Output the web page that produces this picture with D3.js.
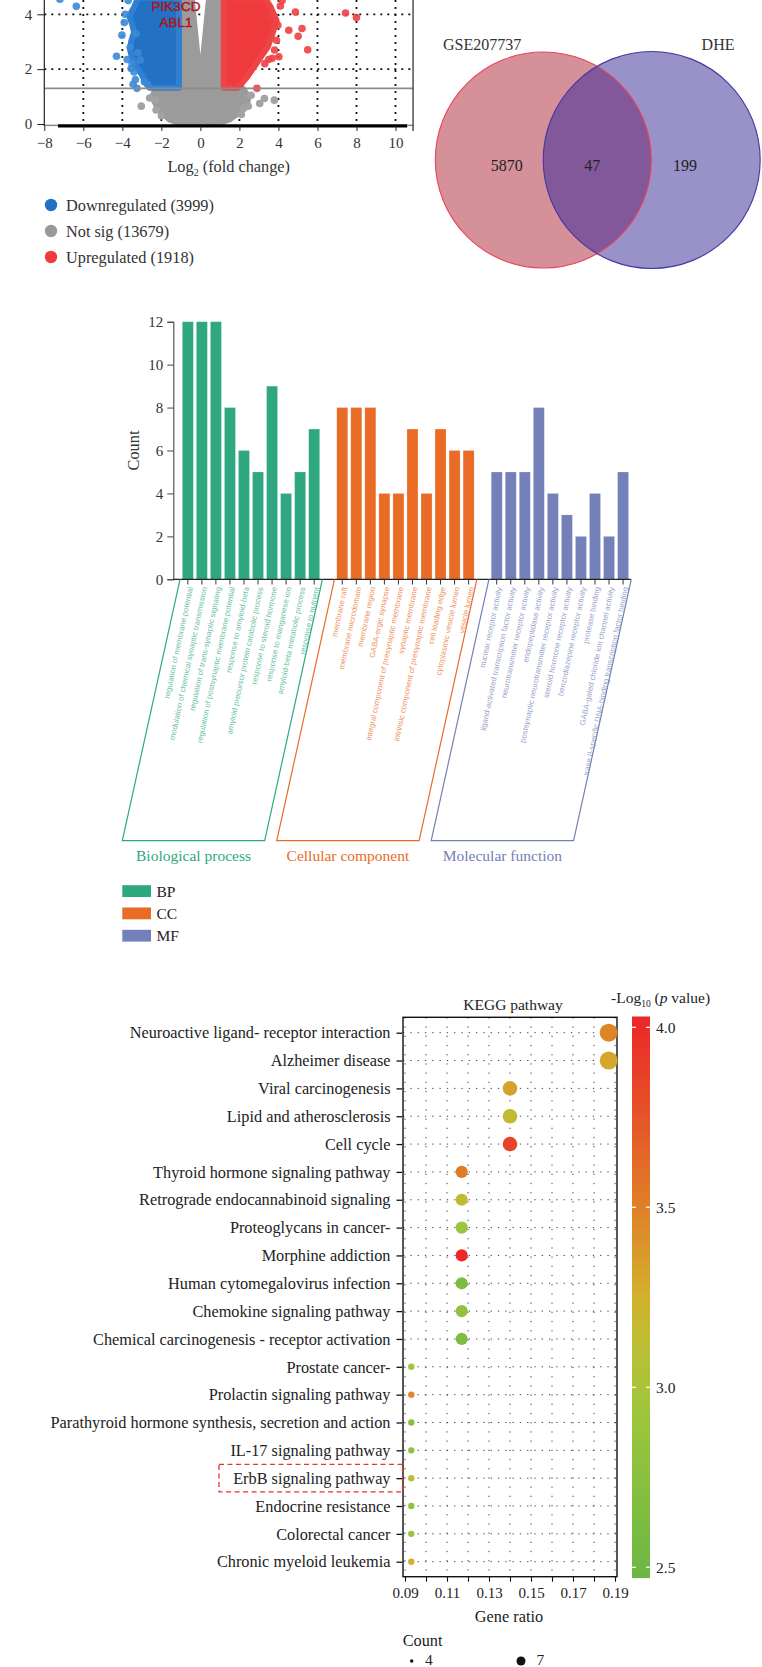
<!DOCTYPE html>
<html><head><meta charset="utf-8">
<script src="https://cdn.jsdelivr.net/npm/d3@7"></script>
<style>
html,body{margin:0;padding:0;background:#fff;}
svg text{font-family:"Liberation Serif","DejaVu Serif",serif;}
svg text.sans{font-family:"Liberation Sans",Arial,sans-serif;}
</style></head>
<body>
<svg id="fig" width="762" height="1667"></svg>
<script>
// ---------------- DATA ----------------
// Volcano plot (log2 fold change, -log10 p)
const volcanoXTicks = [-8,-6,-4,-2,0,2,4,6,8,10];
const volcanoYTicks = [0,2,4];
const legendVolcano = ["Downregulated (3999)","Not sig (13679)","Upregulated (1918)"];
// dense clouds (outlines, data units)
const downCloud = [[-3.2,4.6],[-3.4,4.25],[-3.65,3.95],[-3.5,3.65],[-3.4,3.35],[-3.55,3.0],[-3.6,2.7],[-3.5,2.4],[-3.3,2.1],[-3.0,1.8],[-2.8,1.5],[-2.6,1.32],[-1.1,1.32],[-1.1,4.6]];
const upCloud = [[1.2,4.6],[3.3,4.6],[3.6,4.27],[3.9,3.78],[3.7,3.3],[3.45,2.81],[3.1,2.45],[2.75,2.08],[2.4,1.72],[2.05,1.42],[1.9,1.32],[1.2,1.32]];
const notSigCloud = [[-1.1,4.6],[-0.42,4.6],[0,1.6],[0.42,4.6],[1.2,4.6],[1.2,1.3],[2.2,1.3],[2.5,1.0],[2.4,0.7],[2.0,0.4],[1.5,0.15],[1.0,0.02],[-1.1,0.02],[-1.6,0.15],[-2.0,0.4],[-2.3,0.7],[-2.5,1.0],[-2.3,1.3],[-1.1,1.3]];
// scattered genes
const downPoints = [[-7.2,4.55],[-6.36,4.29],[-3.85,4.0],[-3.7,4.5],[-4.02,3.24],[-4.3,2.47],[-3.3,3.3],[-3.55,2.02],[-3.33,1.62],[-3.25,1.3],[-2.87,1.54],[-3.5,2.2],[-3.08,2.33],[-3.75,2.35],[-3.4,1.9],[-2.7,1.45],[-3.9,3.7],[-3.45,1.45],[-3.6,2.8],[-3.2,2.6]];
const upPoints = [[4.19,4.5],[4.87,4.08],[4.53,3.42],[5.21,3.48],[5.01,3.2],[5.5,2.71],[7.44,4.05],[8.0,3.88],[4.02,2.45],[3.68,2.4],[3.5,2.35],[2.9,1.3],[3.97,3.6],[3.9,3.05],[3.8,2.7],[3.3,2.2],[4.1,4.3],[3.6,3.9]];
const notSigPoints = [[-3.03,0.65],[-2.27,0.51],[-2.3,0.87],[-2.6,0.95],[2.22,0.57],[2.45,0.65],[3.04,0.75],[3.28,0.93],[3.79,0.87],[2.6,1.05],[-2.0,0.3],[2.1,0.35]];
const geneLabels = ["PIK3CD","ABL1"];

// Venn
const vennSets = ["GSE207737","DHE"];
const vennCounts = [5870,47,199];

// GO enrichment
const bpTerms = ["regulation of membrane potential","modulation of chemical synaptic transmission","regulation of trans-synaptic signaling","regulation of postsynaptic membrane potential","response to amyloid-beta","amyloid precursor protein catabolic process","response to steroid hormone","response to manganese ion","amyloid-beta metabolic process","response to nutrient"];
const bpCounts = [12,12,12,8,6,5,9,4,5,7];
const ccTerms = ["membrane raft","membrane microdomain","membrane region","GABA-ergic synapse","integral component of presynaptic membrane","synaptic membrane","intrinsic component of presynaptic membrane","cell leading edge","cytoplasmic vesicle lumen","vesicle lumen"];
const ccCounts = [8,8,8,4,4,7,4,7,6,6];
const mfTerms = ["nuclear receptor activity","ligand-activated transcription factor activity","neurotransmitter receptor activity","endopeptidase activity","postsynaptic neurotransmitter receptor activity","steroid hormone receptor activity","benzodiazepine receptor activity","protease binding","GABA-gated chloride ion channel activity","RNA polymerase II-specific DNA-binding transcription factor binding"];
const mfCounts = [5,5,5,8,4,3,2,4,2,5];
const goGroups = ["BP","CC","MF"];
const goGroupNames = ["Biological process","Cellular component","Molecular function"];
const goYTicks = [0,2,4,6,8,10,12];

// KEGG
const keggPathways = ["Neuroactive ligand- receptor interaction","Alzheimer disease","Viral carcinogenesis","Lipid and atherosclerosis","Cell cycle","Thyroid hormone signaling pathway","Retrograde endocannabinoid signaling","Proteoglycans in cancer-","Morphine addiction","Human cytomegalovirus infection","Chemokine signaling pathway","Chemical carcinogenesis - receptor activation","Prostate cancer-","Prolactin signaling pathway","Parathyroid hormone synthesis, secretion and action","IL-17 signaling pathway","ErbB signaling pathway","Endocrine resistance","Colorectal cancer","Chronic myeloid leukemia"];
const keggRatio = [0.187,0.187,0.140,0.140,0.140,0.117,0.117,0.117,0.117,0.117,0.117,0.117,0.093,0.093,0.093,0.093,0.093,0.093,0.093,0.093];
const keggCount = [8,8,6,6,6,5,5,5,5,5,5,5,4,4,4,4,4,4,4,4];
const keggLogP = [3.47,3.3,3.33,3.15,3.85,3.52,3.15,2.9,4.02,2.62,2.82,2.65,2.95,3.45,2.75,2.8,3.1,2.8,2.9,3.25];
const keggXTicks = [0.09,0.10,0.11,0.12,0.13,0.14,0.15,0.16,0.17,0.18,0.19];
const colorTicks = [2.5,3.0,3.5,4.0];
const countLegend = [4,7];
const highlighted = "ErbB signaling pathway";

// ---------------- DRAW ----------------
const svg = d3.select("#fig");
svg.append("rect").attr("width",762).attr("height",1667).attr("fill","#fff");
const defs = svg.append("defs");
const FS = 16.3;   // word text size

// ===== Volcano =====
{
  const xV = d3.scaleLinear().domain([-8,10]).range([44.3,395.5]);
  const yV = d3.scaleLinear().domain([0,4]).range([124,14.3]);
  const g = svg.append("g");
  defs.append("clipPath").attr("id","vclip").append("rect")
    .attr("x",xV(-8)).attr("y",0).attr("width",xV(10.9)-xV(-8)).attr("height",yV(-0.05));
  // grid
  const grid = g.append("g").attr("stroke","#111").attr("stroke-width",1.8).attr("stroke-dasharray","2,5");
  volcanoXTicks.filter(d=>d!==-8 && d!==0).forEach(d=>{
    grid.append("line").attr("x1",xV(d)).attr("x2",xV(d)).attr("y1",0).attr("y2",yV(0));
  });
  [2,4].forEach(d=>{
    grid.append("line").attr("x1",xV(-8)).attr("x2",xV(10.9)).attr("y1",yV(d)).attr("y2",yV(d));
  });
  const pts = g.append("g").attr("clip-path","url(#vclip)");
  const line = d3.line().x(d=>xV(d[0])).y(d=>yV(d[1])).curve(d3.curveLinearClosed);
  pts.append("path").attr("d",line(notSigCloud)).attr("fill","#9b9b9b").attr("stroke","#9b9b9b").attr("stroke-width",5).attr("stroke-linejoin","round");
  pts.append("path").attr("d",line(downCloud)).attr("fill","#2271c4").attr("stroke","#2f80d0").attr("stroke-width",6).attr("stroke-linejoin","round");
  pts.append("path").attr("d",line(upCloud)).attr("fill","#ef3b3d").attr("stroke","#ef4445").attr("stroke-width",6).attr("stroke-linejoin","round");
  pts.selectAll(".ns").data(notSigPoints).join("circle").attr("cx",d=>xV(d[0])).attr("cy",d=>yV(d[1])).attr("r",3.8).attr("fill","#a3a3a3");
  pts.selectAll(".dn").data(downPoints).join("circle").attr("cx",d=>xV(d[0])).attr("cy",d=>yV(d[1])).attr("r",3.8).attr("fill","#3b8ad6").attr("fill-opacity",0.9);
  pts.selectAll(".up").data(upPoints).join("circle").attr("cx",d=>xV(d[0])).attr("cy",d=>yV(d[1])).attr("r",3.8).attr("fill","#ee4044").attr("fill-opacity",0.9);
  // threshold line
  g.append("line").attr("x1",xV(-8)).attr("x2",xV(10.9)).attr("y1",yV(1.3)).attr("y2",yV(1.3)).attr("stroke","#8c8c8c").attr("stroke-width",1.6);
  // y = 0 band
  g.append("line").attr("x1",xV(-8)).attr("x2",xV(-7.3)).attr("y1",yV(-0.05)).attr("y2",yV(-0.05)).attr("stroke","#888").attr("stroke-width",1.5);
  g.append("line").attr("x1",xV(-7.3)).attr("x2",xV(10.6)).attr("y1",yV(-0.07)).attr("y2",yV(-0.07)).attr("stroke","#000").attr("stroke-width",3.4);
  g.append("line").attr("x1",xV(10.6)).attr("x2",xV(10.9)).attr("y1",yV(-0.05)).attr("y2",yV(-0.05)).attr("stroke","#888").attr("stroke-width",1.5);
  // axes
  g.append("line").attr("x1",xV(-8)).attr("x2",xV(-8)).attr("y1",0).attr("y2",yV(-0.07)).attr("stroke","#222").attr("stroke-width",1.2);
  g.append("line").attr("x1",xV(10.9)).attr("x2",xV(10.9)).attr("y1",0).attr("y2",131).attr("stroke","#222").attr("stroke-width",1.2);
  const xAx = g.append("g").attr("transform",`translate(0,${yV(-0.07)})`)
    .call(d3.axisBottom(xV).tickValues(volcanoXTicks).tickSize(5).tickFormat(d=>d<0?"\u2212"+Math.abs(d):d));
  xAx.select(".domain").remove();
  xAx.selectAll("line").attr("stroke","#222");
  xAx.selectAll("text").attr("font-size",15).attr("fill","#333").attr("dy","0.95em");
  const yAx = g.append("g").attr("transform",`translate(${xV(-8)},0)`)
    .call(d3.axisLeft(yV).tickValues(volcanoYTicks).tickSize(7).tickPadding(5).tickFormat(d3.format("d")));
  yAx.select(".domain").remove();
  yAx.selectAll("line").attr("stroke","#222");
  yAx.selectAll("text").attr("font-size",15).attr("fill","#333");
  const xl = g.append("text").attr("x",(xV(-8)+xV(10.9))/2).attr("y",172).attr("text-anchor","middle").attr("font-size",FS).attr("fill","#333");
  xl.append("tspan").text("Log");
  xl.append("tspan").text("2").attr("font-size",10).attr("dy",3.5);
  xl.append("tspan").text(" (fold change)").attr("dy",-3.5);
  // gene labels
  g.selectAll(".gl").data(geneLabels).join("text").attr("class","sans")
    .attr("x",176).attr("y",(d,i)=>11+i*15.5).attr("text-anchor","middle")
    .attr("font-size",13.5)
    .attr("fill","#dc1420").attr("stroke","#8a0c0c").attr("stroke-width",0.6).attr("stroke-opacity",0.7).text(d=>d);
  // legend
  const lc = ["#2271c4","#999999","#ef3b3d"];
  legendVolcano.forEach((t,i)=>{
    g.append("circle").attr("cx",51).attr("cy",205+i*26).attr("r",6.2).attr("fill",lc[i]);
    g.append("text").attr("x",66).attr("y",205+i*26).attr("dy","0.35em").attr("font-size",FS).attr("fill","#333").text(t);
  });
}

// ===== Venn =====
{
  const g = svg.append("g");
  const c1 = {x:543.3,y:160,r:108}, c2 = {x:651.7,y:160,r:108.5};
  g.append("circle").attr("cx",c1.x).attr("cy",c1.y).attr("r",c1.r).attr("fill","#d6909a");
  g.append("circle").attr("cx",c2.x).attr("cy",c2.y).attr("r",c2.r).attr("fill","#9892c9");
  defs.append("clipPath").attr("id","vc1").append("circle").attr("cx",c1.x).attr("cy",c1.y).attr("r",c1.r);
  g.append("circle").attr("cx",c2.x).attr("cy",c2.y).attr("r",c2.r).attr("fill","#83589b").attr("clip-path","url(#vc1)");
  g.append("circle").attr("cx",c1.x).attr("cy",c1.y).attr("r",c1.r).attr("fill","none").attr("stroke","#e8425c").attr("stroke-width",1.1);
  g.append("circle").attr("cx",c2.x).attr("cy",c2.y).attr("r",c2.r).attr("fill","none").attr("stroke","#4539a0").attr("stroke-width",1.1);
  g.append("text").attr("x",443).attr("y",50).attr("font-size",16).attr("fill","#333").text(vennSets[0]);
  g.append("text").attr("x",734.5).attr("y",50).attr("text-anchor","end").attr("font-size",16).attr("fill","#333").text(vennSets[1]);
  const cx = [506.7,592.3,685];
  vennCounts.forEach((v,i)=>g.append("text").attr("x",cx[i]).attr("y",165).attr("dy","0.35em").attr("text-anchor","middle").attr("font-size",16).attr("fill","#222").text(v));
}

// ===== GO bar chart =====
{
  const g = svg.append("g");
  const colors = {BP:"#2fa882",CC:"#e96b26",MF:"#7480b8"};
  const rows = [];
  bpTerms.forEach((t,i)=>rows.push({term:t,count:bpCounts[i],grp:"BP"}));
  ccTerms.forEach((t,i)=>rows.push({term:t,count:ccCounts[i],grp:"CC"}));
  mfTerms.forEach((t,i)=>rows.push({term:t,count:mfCounts[i],grp:"MF"}));
  const slots = [...bpTerms,"__gap1",...ccTerms,"__gap2",...mfTerms];
  const x = d3.scaleBand().domain(slots).range([175.3,635.6]).paddingInner(0.216).paddingOuter(0.5);
  const y = d3.scaleLinear().domain([0,12]).range([579.3,321.7]);
  g.selectAll(".bar").data(rows).join("rect")
    .attr("x",d=>x(d.term)).attr("width",x.bandwidth())
    .attr("y",d=>y(d.count)).attr("height",d=>y(0)-y(d.count))
    .attr("fill",d=>colors[d.grp]).attr("stroke","#ffffff").attr("stroke-opacity",0.35).attr("stroke-width",0.6);
  // y axis
  const yAx = g.append("g").attr("transform","translate(173.3,0)").call(d3.axisLeft(y).tickValues(goYTicks).tickSize(6).tickPadding(4));
  yAx.select(".domain").attr("stroke","#444").attr("stroke-width",1.1);
  yAx.selectAll("line").attr("stroke","#444");
  yAx.selectAll("text").attr("font-size",15).attr("fill","#333");
  g.append("text").attr("transform","translate(139,450.5) rotate(-90)").attr("text-anchor","middle").attr("font-size",FS).attr("fill","#333").text("Count");
  // x axis line + ticks
  g.append("line").attr("x1",173.3).attr("x2",631).attr("y1",579.3).attr("y2",579.3).attr("stroke","#222").attr("stroke-width",1.2);
  g.selectAll(".tk").data(rows).join("line")
    .attr("x1",d=>x(d.term)+x.bandwidth()/2).attr("x2",d=>x(d.term)+x.bandwidth()/2)
    .attr("y1",579.3).attr("y2",584.5).attr("stroke","#333").attr("stroke-width",1);
  defs.append("clipPath").attr("id","goclip").append("rect").attr("x",100).attr("y",582).attr("width",560).attr("height",193);
  const lab = g.append("g").attr("clip-path","url(#goclip)");
  lab.selectAll(".lb").data(rows).join("text").attr("class","sans")
    .attr("transform",d=>`translate(${x(d.term)+x.bandwidth()/2+2.5},${587}) rotate(-78)`)
    .attr("text-anchor","end").attr("dy","0.35em")
    .attr("font-size",7.8)
    .attr("fill",d=>colors[d.grp]).attr("fill-opacity",0.75).text(d=>d.term);
  // parallelogram boxes
  const groups = [bpTerms,ccTerms,mfTerms];
  groups.forEach((terms,i)=>{
    const gname = goGroups[i];
    const tl = x(terms[0]) - 2.3, tr = x(terms[terms.length-1]) + x.bandwidth() + 2.7;
    const shift = 57.7, yt = 579.3, yb = 840.7;
    g.append("path").attr("d",`M${tl},${yt}L${tl-shift},${yb}L${tr-shift},${yb}L${tr},${yt}`)
      .attr("fill","none").attr("stroke",colors[gname]).attr("stroke-width",1.2);
    g.append("text").attr("x",(tl+tr)/2-shift).attr("y",861).attr("text-anchor","middle")
      .attr("font-size",15.5).attr("fill",colors[gname]).text(goGroupNames[i]);
  });
  // legend
  goGroups.forEach((gname,i)=>{
    g.append("rect").attr("x",122.3).attr("y",885.2+i*22.3).attr("width",28.7).attr("height",11.8).attr("fill",colors[gname]);
    g.append("text").attr("x",156.5).attr("y",891.1+i*22.3).attr("dy","0.35em").attr("font-size",15.5).attr("fill","#222").text(gname);
  });
}

// ===== KEGG dot plot =====
{
  const g = svg.append("g");
  const x = d3.scaleLinear().domain([0.09,0.19]).range([405,615]);
  const y = d3.scalePoint().domain(keggPathways).range([1032.7,1561.7]);
  const color = d3.scaleLinear().domain([2.47,3.0,3.25,3.5,4.03]).range(["#6bb744","#a6c83a","#d2b22c","#e07f28","#ec2628"]);
  const rNorm = d3.scaleLinear().domain([4,8]).range([0,1]);
  const rSqrt = d3.scaleSqrt().domain([0,1]).range([3.2,9]);
  const r = c => rSqrt(rNorm(c));
  const fx0 = 403, fx1 = 617, fy0 = 1017.3, fy1 = 1576.7;
  // grid
  const grid = g.append("g").attr("stroke","#444").attr("stroke-width",1);
  keggPathways.forEach(p=>grid.append("line").attr("x1",fx0).attr("x2",fx1).attr("y1",y(p)).attr("y2",y(p)).attr("stroke-dasharray","1.3,6"));
  keggXTicks.forEach(t=>grid.append("line").attr("x1",x(t)).attr("x2",x(t)).attr("y1",fy0).attr("y2",fy1).attr("stroke-dasharray","1.3,7.9"));
  // frame
  g.append("rect").attr("x",fx0).attr("y",fy0).attr("width",fx1-fx0).attr("height",fy1-fy0).attr("fill","none").attr("stroke","#111").attr("stroke-width",1.4);
  // dots
  const data = keggPathways.map((p,i)=>({p,ratio:keggRatio[i],count:keggCount[i],lp:keggLogP[i]}));
  g.selectAll(".dot").data(data).join("circle")
    .attr("cx",d=>x(d.ratio)).attr("cy",d=>y(d.p)).attr("r",d=>r(d.count)).attr("fill",d=>color(d.lp));
  // y axis labels
  const yAx = g.append("g").attr("transform",`translate(${fx0-1},0)`).call(d3.axisLeft(y).tickSize(5.5).tickPadding(6));
  yAx.select(".domain").remove();
  yAx.selectAll("line").attr("stroke","#111").attr("stroke-width",1.3);
  yAx.selectAll("text").attr("font-size",FS).attr("fill","#222");
  // x axis
  const xAx = g.append("g").attr("transform",`translate(0,${fy1})`)
    .call(d3.axisBottom(x).tickValues(keggXTicks).tickSize(5).tickPadding(6).tickFormat(d=>{const k=Math.round(d*100);return k%2===1?d3.format(".2f")(d):"";}));
  xAx.select(".domain").remove();
  xAx.selectAll("line").attr("stroke","#111").attr("stroke-width",1.1);
  xAx.selectAll("text").attr("font-size",15).attr("fill","#222");
  g.append("text").attr("x",509).attr("y",1616.7).attr("dy","0.35em").attr("text-anchor","middle").attr("font-size",FS).attr("fill","#222").text("Gene ratio");
  g.append("text").attr("x",513).attr("y",1005).attr("dy","0.35em").attr("text-anchor","middle").attr("font-size",15.5).attr("fill","#222").text("KEGG pathway");
  // highlight box
  const hy = y(highlighted);
  g.append("rect").attr("x",219).attr("y",hy-13.8).attr("width",402.5-219).attr("height",27.6)
    .attr("fill","none").attr("stroke","#ee3030").attr("stroke-width",1.3).attr("stroke-dasharray","5,3.5");
  // colour bar
  const yc = d3.scaleLinear().domain([2.5,4.0]).range([1567.3,1027.3]);
  const grad = defs.append("linearGradient").attr("id","cbar").attr("x1",0).attr("x2",0).attr("y1",1).attr("y2",0);
  const cd = color.domain();
  d3.range(0,11).forEach(k=>{
    const v = cd[0] + (cd[cd.length-1]-cd[0])*k/10;
    grad.append("stop").attr("offset",k/10).attr("stop-color",color(v));
  });
  g.append("rect").attr("x",632).attr("y",yc(4.03)).attr("width",18).attr("height",yc(2.47)-yc(4.03)).attr("fill","url(#cbar)");
  colorTicks.forEach(t=>{
    g.append("line").attr("x1",632).attr("x2",636).attr("y1",yc(t)).attr("y2",yc(t)).attr("stroke","#fff").attr("stroke-width",1.2);
    g.append("line").attr("x1",646).attr("x2",650).attr("y1",yc(t)).attr("y2",yc(t)).attr("stroke","#fff").attr("stroke-width",1.2);
    g.append("text").attr("x",656).attr("y",yc(t)).attr("dy","0.35em").attr("font-size",15.5).attr("fill","#222").text(d3.format(".1f")(t));
  });
  const ct = g.append("text").attr("x",611).attr("y",1003).attr("font-size",15.5).attr("fill","#222");
  ct.append("tspan").text("-Log");
  ct.append("tspan").text("10").attr("font-size",9.5).attr("dy",3.5);
  ct.append("tspan").text(" (").attr("dy",-3.5);
  ct.append("tspan").text("p").attr("font-style","italic");
  ct.append("tspan").text(" value)");
  // count legend
  g.append("text").attr("x",402.7).attr("y",1640).attr("dy","0.35em").attr("font-size",FS).attr("fill","#222").text("Count");
  const lx = [411.7,521], tx = [425,536.5];
  countLegend.forEach((c,i)=>{
    g.append("circle").attr("cx",lx[i]).attr("cy",1661).attr("r",r(c)*0.55).attr("fill","#111");
    g.append("text").attr("x",tx[i]).attr("y",1660).attr("dy","0.35em").attr("font-size",15.5).attr("fill","#222").text(c);
  });
}
</script>
</body></html>
